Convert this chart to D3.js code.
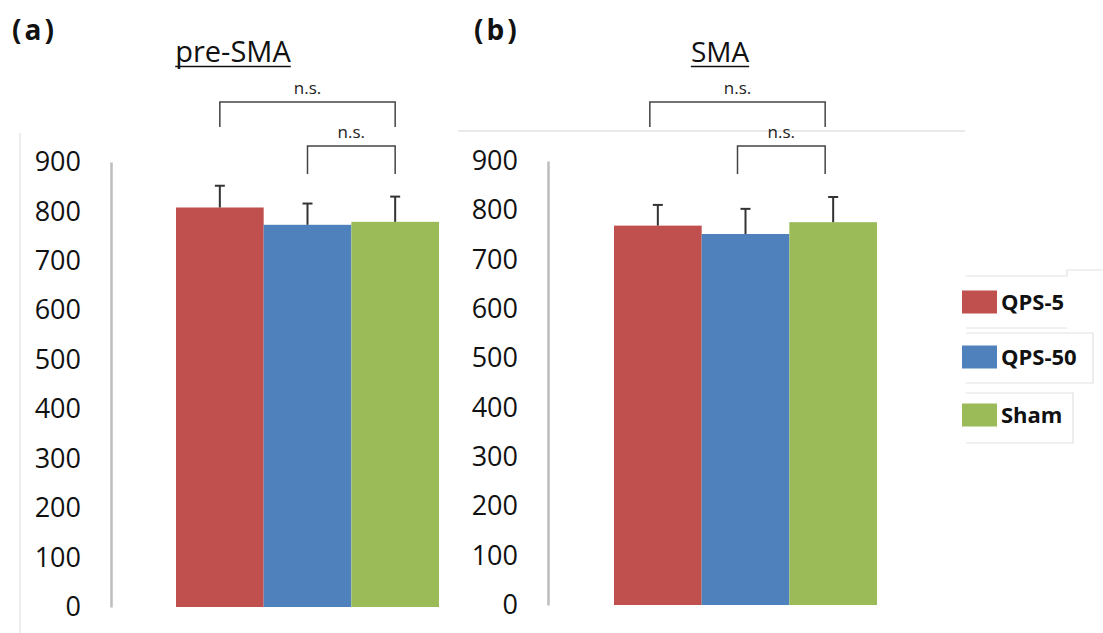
<!DOCTYPE html>
<html>
<head>
<meta charset="utf-8">
<script src="https://cdn.jsdelivr.net/npm/d3@7"></script>
<style>
  body { margin: 0; background: #fff; }
  svg { display: block; font-family: 'Open Sans', sans-serif; }
</style>
</head>
<body>
<svg id="chart" width="1103" height="633"></svg>
<script>
// data
const groups = ['QPS-5', 'QPS-50', 'Sham'];
const colors = ['#c0504d', '#4f81bd', '#9bbb59'];
const yTicks = [0, 100, 200, 300, 400, 500, 600, 700, 800, 900];

const preSmaMeans = [808, 773, 779];
const preSmaErrors = [44, 43, 51];
const smaMeans = [769, 752, 776];
const smaErrors = [42, 51, 51];

// pairs compared, by group index
const comparisons = [[0, 2], [1, 2]];
const compLabels = ['n.s.', 'n.s.'];

const svg = d3.select('#chart');

const color = d3.scaleOrdinal().domain(groups).range(colors);

const panels = [
  {
    tag: '(a)', tagX: 12, title: 'pre-SMA', titleX: 233, titleSize: 29,
    means: preSmaMeans, errors: preSmaErrors,
    axisX: 111, bars: [176, 439], yRange: [607, 162],
    bracketShift: 0
  },
  {
    tag: '(b)', tagX: 474, title: 'SMA', titleX: 720, titleSize: 28,
    means: smaMeans, errors: smaErrors,
    axisX: 548, bars: [614, 877], yRange: [605, 161],
    bracketShift: -8
  }
];

// bracket layout (pixel rows): top line and leg end
const bracketRows = [{ top: 102, leg: 127 }, { top: 146, leg: 174 }];

// faint frame leftovers from the source figure
svg.append('line')
  .attr('x1', 20).attr('x2', 20).attr('y1', 133).attr('y2', 633)
  .style('stroke', '#e6e6e6').style('stroke-width', 1.5);
svg.append('line')
  .attr('x1', 458).attr('x2', 965).attr('y1', 131).attr('y2', 131)
  .style('stroke', '#e3e3e3').style('stroke-width', 1.5);

panels.forEach((p) => {
  const g = svg.append('g');

  const x = d3.scaleBand()
    .domain(groups)
    .range(p.bars)
    .paddingInner(0);

  const y = d3.scaleLinear()
    .domain([0, 900])
    .range(p.yRange);

  // axis
  const yAxis = d3.axisLeft(y)
    .tickValues(yTicks)
    .tickSize(0)
    .tickPadding(30);

  const axisG = g.append('g')
    .attr('transform', `translate(${p.axisX}, 0)`)
    .call(yAxis);

  axisG.select('.domain')
    .style('stroke', '#bdbdbd')
    .style('stroke-width', 2.5);

  axisG.selectAll('.tick text')
    .style('font-family', "'Open Sans', sans-serif")
    .style('font-size', '27px')
    .style('fill', '#111');

  // bars
  const rows = groups.map((name, i) => ({ name, mean: p.means[i], err: p.errors[i] }));

  g.selectAll('rect.bar')
    .data(rows)
    .enter()
    .append('rect')
    .attr('class', 'bar')
    .attr('x', (d) => x(d.name))
    .attr('width', x.bandwidth())
    .attr('y', (d) => y(d.mean))
    .attr('height', (d) => y(0) - y(d.mean))
    .style('fill', (d) => color(d.name));

  // error bars (upper only)
  const err = g.selectAll('g.err')
    .data(rows)
    .enter()
    .append('g')
    .attr('class', 'err')
    .style('stroke', '#333')
    .style('stroke-width', 2);

  err.append('line')
    .attr('x1', (d) => x(d.name) + x.bandwidth() / 2)
    .attr('x2', (d) => x(d.name) + x.bandwidth() / 2)
    .attr('y1', (d) => y(d.mean))
    .attr('y2', (d) => y(d.mean + d.err));

  err.append('line')
    .attr('x1', (d) => x(d.name) + x.bandwidth() / 2 - 5)
    .attr('x2', (d) => x(d.name) + x.bandwidth() / 2 + 5)
    .attr('y1', (d) => y(d.mean + d.err))
    .attr('y2', (d) => y(d.mean + d.err));

  // significance brackets
  comparisons.forEach((pair, i) => {
    const row = bracketRows[i];
    const x1 = x(groups[pair[0]]) + x.bandwidth() / 2 + p.bracketShift;
    const x2 = x(groups[pair[1]]) + x.bandwidth() / 2 + p.bracketShift;

    g.append('path')
      .attr('d', `M${x1},${row.leg}V${row.top}H${x2}V${row.leg}`)
      .style('fill', 'none')
      .style('stroke', '#444')
      .style('stroke-width', 1.5);

    g.append('text')
      .attr('x', (x1 + x2) / 2)
      .attr('y', row.top - 8)
      .attr('text-anchor', 'middle')
      .style('font-size', '17px')
      .style('fill', '#222')
      .text(compLabels[i]);
  });

  // panel tag and title
  g.append('text')
    .attr('x', p.tagX)
    .attr('y', 40)
    .style('font-size', '28px')
    .style('font-weight', 700)
    .style('letter-spacing', '3px')
    .style('fill', '#111')
    .text(p.tag);

  const title = g.append('text')
    .attr('x', p.titleX)
    .attr('y', 62)
    .attr('text-anchor', 'middle')
    .style('font-size', `${p.titleSize}px`)
    .style('fill', '#111')
    .text(p.title);

  const tw = title.node().getComputedTextLength();
  g.append('line')
    .attr('x1', p.titleX - tw / 2)
    .attr('x2', p.titleX + tw / 2)
    .attr('y1', 66.5)
    .attr('y2', 66.5)
    .style('stroke', '#111')
    .style('stroke-width', 1.5);
});

// legend
const legendRowY = [302, 357, 415];

const legendFrame = [
  'M966,276H1067V270H1103',
  'M966,328H1067',
  'M966,333H1093V383H966',
  'M966,393H1073V443H966'
];
svg.append('g')
  .selectAll('path')
  .data(legendFrame)
  .enter()
  .append('path')
  .attr('d', (d) => d)
  .style('fill', 'none')
  .style('stroke', '#e2e2e2')
  .style('stroke-width', 1.2);

const legend = svg.append('g')
  .selectAll('g.item')
  .data(groups)
  .enter()
  .append('g')
  .attr('class', 'item')
  .attr('transform', (d, i) => `translate(962, ${legendRowY[i]})`);

legend.append('rect')
  .attr('x', 0)
  .attr('y', -11.5)
  .attr('width', 35)
  .attr('height', 23)
  .style('fill', (d) => color(d));

legend.append('text')
  .attr('x', 39)
  .attr('y', 8)
  .style('font-size', '22px')
  .style('font-weight', 700)
  .style('fill', '#111')
  .text((d) => d);
</script>
</body>
</html>
